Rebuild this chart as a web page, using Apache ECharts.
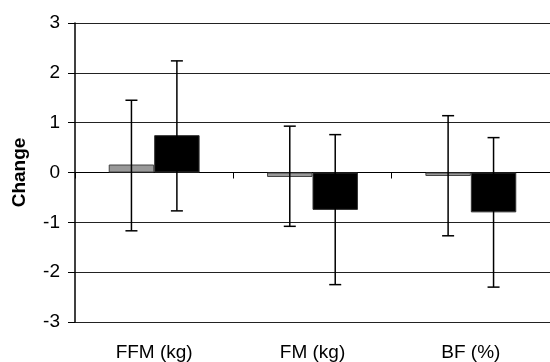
<!DOCTYPE html>
<html>
<head>
<meta charset="utf-8">
<script src="https://cdn.jsdelivr.net/npm/echarts@6/dist/echarts.min.js"></script>
<style>
  html, body { margin: 0; padding: 0; background: #fff; }
  #chart { width: 550px; height: 362px; }
</style>
</head>
<body>
<div id="chart"></div>
<script>
// categories and values
var categories = ['FFM (kg)', 'FM (kg)', 'BF (%)'];
var yTicks = [-3, -2, -1, 0, 1, 2, 3];
var greyMeans = [0.16, -0.09, -0.07];
var blackMeans = [0.75, -0.75, -0.80];
// error bars as [low, high]
var greyErr = [[-1.17, 1.45], [-1.08, 0.93], [-1.27, 1.14]];
var blackErr = [[-0.77, 2.24], [-2.25, 0.76], [-2.30, 0.70]];

var BAR_FRAC = 0.287; // bar width as share of a category band

function errData(err) {
  return err.map(function (e, i) { return [i, e[0], e[1]]; });
}

function errRenderer(side) {
  return function (params, api) {
    var lo = api.coord([api.value(0), api.value(1)]);
    var hi = api.coord([api.value(0), api.value(2)]);
    var band = api.size([1, 0])[0];
    var x = lo[0] + side * band * BAR_FRAC / 2;
    var cap = 6;
    var style = { stroke: '#000', lineWidth: 1.5 };
    return {
      type: 'group',
      children: [
        { type: 'line', shape: { x1: x, y1: hi[1], x2: x, y2: lo[1] }, style: style },
        { type: 'line', shape: { x1: x - cap, y1: hi[1], x2: x + cap, y2: hi[1] }, style: style },
        { type: 'line', shape: { x1: x - cap, y1: lo[1], x2: x + cap, y2: lo[1] }, style: style }
      ]
    };
  };
}

var chart = echarts.init(document.getElementById('chart'));
chart.setOption({
  animation: false,
  textStyle: { fontFamily: 'Liberation Sans, Arial, sans-serif' },
  grid: { left: 75, top: 23, width: 477, height: 301 },
  xAxis: [{
    // axis line with ticks sitting on zero
    type: 'category',
    data: categories,
    position: 'bottom',
    axisLine: { onZero: true, lineStyle: { color: '#000', width: 1 } },
    axisTick: { show: true, length: 6, lineStyle: { color: '#000' } },
    axisLabel: { show: false }
  }, {
    // labels only, at the bottom
    type: 'category',
    data: categories,
    position: 'bottom',
    axisLine: { show: false, onZero: false },
    axisTick: { show: false },
    axisLabel: { color: '#000', fontSize: 19, margin: 21 }
  }],
  yAxis: {
    type: 'value',
    min: yTicks[0],
    max: yTicks[yTicks.length - 1],
    interval: 1,
    name: 'Change',
    nameLocation: 'middle',
    nameGap: 46,
    nameTextStyle: { color: '#000', fontSize: 19, fontWeight: 'bold' },
    axisLine: { show: true, lineStyle: { color: '#000', width: 1.5 } },
    axisTick: { show: true, length: 7, lineStyle: { color: '#000' } },
    axisLabel: { color: '#000', fontSize: 19, margin: 15 },
    splitLine: { show: true, lineStyle: { color: '#222', width: 1 } }
  },
  series: [{
    type: 'bar',
    data: greyMeans,
    barWidth: (BAR_FRAC * 100) + '%',
    barGap: '0%',
    itemStyle: { color: '#999999', borderColor: '#444', borderWidth: 1 }
  }, {
    type: 'bar',
    data: blackMeans,
    barWidth: (BAR_FRAC * 100) + '%',
    barGap: '0%',
    itemStyle: { color: '#000', borderColor: '#333', borderWidth: 1 }
  }, {
    type: 'custom',
    renderItem: errRenderer(-1),
    encode: { x: 0, y: [1, 2] },
    data: errData(greyErr),
    z: 10
  }, {
    type: 'custom',
    renderItem: errRenderer(1),
    encode: { x: 0, y: [1, 2] },
    data: errData(blackErr),
    z: 10
  }]
});
</script>
</body>
</html>
